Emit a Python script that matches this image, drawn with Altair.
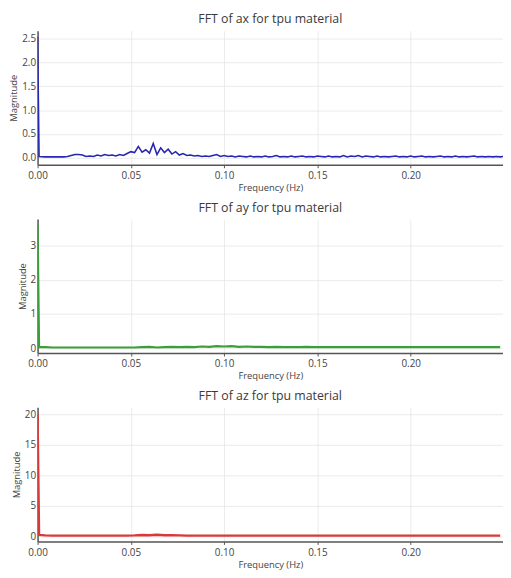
import altair as alt
import pandas as pd

# Frequency grid (Hz)
freq_ax = [0.0, 0.0008] + [round(i * 0.002, 3) for i in range(2, 126)]
mag_ax = [
    2.54, 0.03, 0.02, 0.02, 0.02, 0.02, 0.02, 0.02, 0.03, 0.05,
    0.07, 0.07, 0.06, 0.03, 0.04, 0.03, 0.06, 0.04, 0.07, 0.05,
    0.06, 0.04, 0.07, 0.05, 0.09, 0.13, 0.11, 0.24, 0.12, 0.17,
    0.10, 0.30, 0.07, 0.21, 0.11, 0.18, 0.08, 0.13, 0.06, 0.09,
    0.05, 0.06, 0.04, 0.05, 0.03, 0.04, 0.03, 0.05, 0.07, 0.03,
    0.05, 0.03, 0.04, 0.02, 0.04, 0.03, 0.02, 0.04, 0.02, 0.03,
    0.02, 0.04, 0.02, 0.03, 0.05, 0.02, 0.03, 0.02, 0.04, 0.02,
    0.03, 0.04, 0.02, 0.03, 0.02, 0.04, 0.03, 0.02, 0.04, 0.02,
    0.03, 0.02, 0.05, 0.02, 0.04, 0.03, 0.05, 0.02, 0.04, 0.03,
    0.02, 0.04, 0.02, 0.03, 0.02, 0.03, 0.04, 0.02, 0.03, 0.02,
    0.04, 0.02, 0.03, 0.04, 0.02, 0.03, 0.02, 0.03, 0.04, 0.02,
    0.03, 0.02, 0.04, 0.02, 0.03, 0.02, 0.03, 0.04, 0.02, 0.03,
    0.02, 0.03, 0.02, 0.03, 0.02, 0.03,
]

freq_ay = [0.0, 0.0008] + [round(i * 0.004, 3) for i in range(1, 63)]
mag_ay = [
    3.60, 0.03, 0.03, 0.02, 0.02, 0.02, 0.02, 0.02, 0.02, 0.02,
    0.02, 0.02, 0.02, 0.02, 0.02, 0.03, 0.04, 0.02, 0.03, 0.04,
    0.03, 0.04, 0.03, 0.05, 0.04, 0.06, 0.05, 0.06, 0.04, 0.05,
    0.04, 0.04, 0.03, 0.04, 0.03, 0.03, 0.03, 0.04, 0.03, 0.03,
    0.03, 0.03, 0.03, 0.03, 0.03, 0.03, 0.03, 0.03, 0.03, 0.03,
    0.03, 0.03, 0.03, 0.03, 0.03, 0.03, 0.03, 0.03, 0.03, 0.03,
    0.03, 0.03, 0.03, 0.03,
]

freq_az = [0.0, 0.0008] + [round(i * 0.004, 3) for i in range(1, 63)]
mag_az = [
    20.0, 0.25, 0.18, 0.15, 0.15, 0.15, 0.15, 0.15, 0.15, 0.15,
    0.15, 0.15, 0.15, 0.15, 0.18, 0.25, 0.20, 0.28, 0.20, 0.22,
    0.18, 0.15, 0.15, 0.15, 0.15, 0.15, 0.15, 0.15, 0.15, 0.15,
    0.15, 0.15, 0.15, 0.15, 0.15, 0.15, 0.15, 0.15, 0.15, 0.15,
    0.15, 0.15, 0.15, 0.15, 0.15, 0.15, 0.15, 0.15, 0.15, 0.15,
    0.15, 0.15, 0.15, 0.15, 0.15, 0.15, 0.15, 0.15, 0.15, 0.15,
    0.15, 0.15, 0.15, 0.15,
]

x_ticks = [0.0, 0.05, 0.10, 0.15, 0.20]
FONT = "Open Sans"


def panel(freqs, mags, title, color, domain, ticks, fmt, width_px):
    df = pd.DataFrame({"f": freqs, "m": mags})
    return (
        alt.Chart(df, title=alt.TitleParams(title, fontSize=12.5, font=FONT, color="#3a3a3a",
                                            fontWeight="normal", offset=5, anchor="middle"))
        .mark_line(clip=True, strokeWidth=width_px, color=color)
        .encode(
            x=alt.X("f:Q", scale=alt.Scale(domain=[0, 0.2495], nice=False, zero=False),
                    axis=alt.Axis(values=x_ticks, format=".2f", title="Frequency (Hz)",
                                  labelFlush=False)),
            y=alt.Y("m:Q", scale=alt.Scale(domain=domain, nice=False, zero=False),
                    axis=alt.Axis(values=ticks, format=fmt, title="Magnitude",
                                  labelFlush=False)),
        )
        .properties(width=472, height=136)
    )


p1 = panel(freq_ax, mag_ax, "FFT of ax for tpu material", "#2626b0", [-0.145, 2.665],
           [0, 0.5, 1.0, 1.5, 2.0, 2.5], ".1f", 1.6)
p2 = panel(freq_ay, mag_ay, "FFT of ay for tpu material", "#3a9e3a", [-0.144, 3.78],
           [0, 1, 2, 3], "d", 2.2)
p3 = panel(freq_az, mag_az, "FFT of az for tpu material", "#d63a3a", [-0.81, 21.14],
           [0, 5, 10, 15, 20], "d", 2.4)

chart = (
    alt.vconcat(p1, p2, p3, spacing=9)
    .properties(padding={"left": 0, "top": 1, "right": 0, "bottom": 0})
    .configure_view(stroke=None)
    .configure_axis(
        labelFont=FONT, titleFont=FONT, labelFontSize=10, titleFontSize=9.5,
        labelColor="#444444", titleColor="#444444", titleFontWeight="normal",
        domainColor="#555555", domainWidth=1.5, tickColor="#555555", tickSize=3,
        gridColor="#e6e6e6", gridWidth=0.8, labelPadding=3, titlePadding=2,
    )
    .configure_axisY(labelPadding=2, titlePadding=3, tickSize=0)
)

chart.save("out.html", embed_options={"renderer": "svg", "actions": False})
